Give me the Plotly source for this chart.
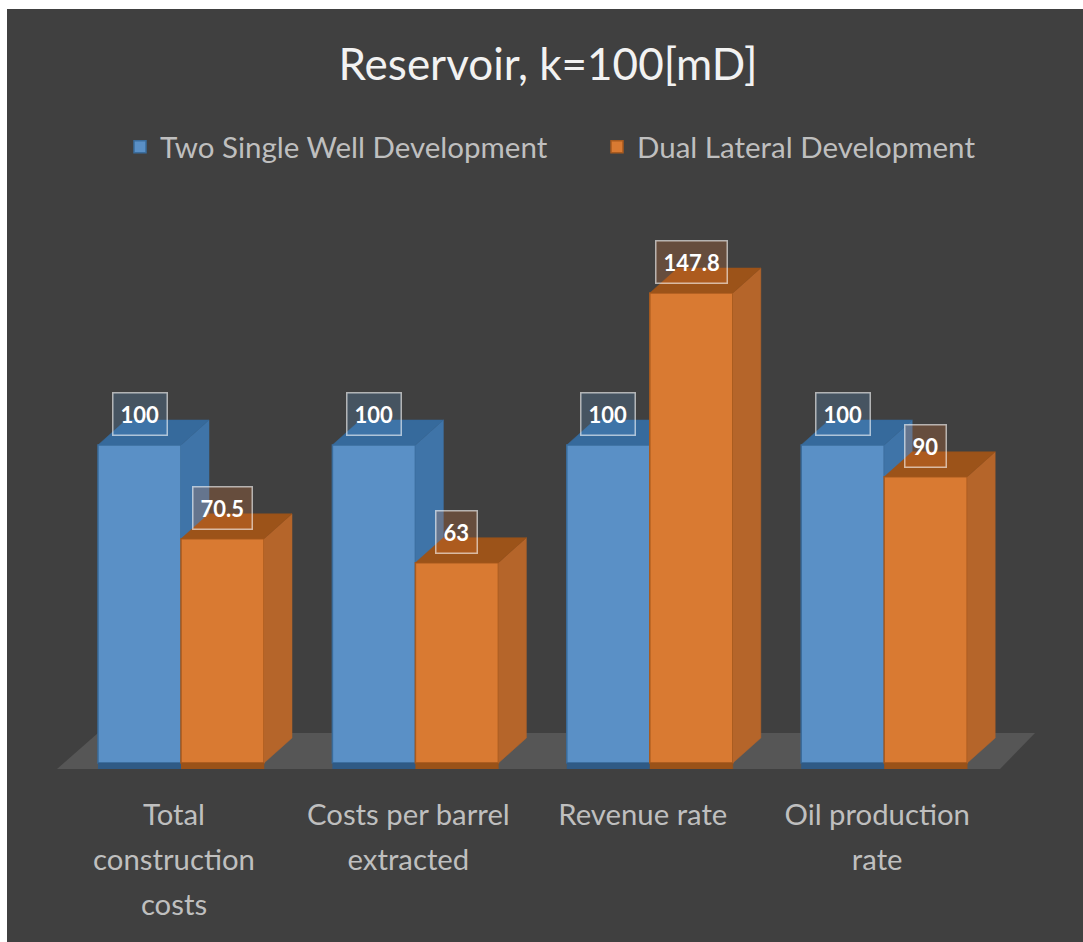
import plotly.graph_objects as go

categories = ["Total<br>construction<br>costs", "Costs per barrel<br>extracted", "Revenue rate", "Oil production<br>rate"]
positions = [0, 1, 2, 3]
series_names = ["Two Single Well Development", "Dual Lateral Development"]
two_single = [100, 100, 100, 100]
dual_lateral = [70.5, 63, 147.8, 90]
dual_labels = ["70.5", "63", "147.8", "90"]

FONT = "Lato"
BG = "#404040"
OX, OY = 7, 9     # white strip left of and above the dark panel
W = 1083 - OX
H = 942 - OY
PX_X = 234.4      # px per category
PX_Y = 3.18       # px per value unit
X0_PX, Y0_PX = 181, 763
M_TOP = 150
BOTTOM_PX = 769
BAR_W = 83 / PX_X
DX = 28 / PX_X
DY = 25 / PX_Y
x_range = [(OX - X0_PX) / PX_X, (OX + W - X0_PX) / PX_X]
y_range = [(Y0_PX - BOTTOM_PX) / PX_Y, (Y0_PX - (OY + M_TOP)) / PX_Y]


def poly(xs, ys, color, xa, ya):
    return go.Scatter(x=xs, y=ys, mode="lines", fill="toself", fillcolor=color,
                      line=dict(color=color, width=0.5), hoverinfo="skip",
                      showlegend=False, xaxis=xa, yaxis=ya)


fig = go.Figure()


def add_series(name, values, offset, front, edge, side, top, under, xa, ya):
    for p, v in zip(positions, values):
        x0 = p + offset
        x1 = x0 + BAR_W
        low = y_range[0]
        fig.add_trace(poly([x0, x1, x1, x0], [low, low, 0, 0], under, xa, ya))
        fig.add_trace(poly([x1, x1 + DX, x1 + DX, x1], [0, DY, v + DY, v], side, xa, ya))
        fig.add_trace(poly([x0, x0 + DX, x1 + DX, x1], [v, v + DY, v + DY, v], top, xa, ya))
    fig.add_trace(go.Bar(x=positions, y=values, name=name, width=BAR_W, offset=offset,
                         marker=dict(color=front, line=dict(color=edge, width=1.5)),
                         xaxis=xa, yaxis=ya))


add_series(series_names[0], two_single, -BAR_W, "#5A90C6", "#3A6C9C", "#3F74A8", "#366A9C", "#2F5A85", "x", "y")
add_series(series_names[1], dual_lateral, 0, "#D97A32", "#A85A1E", "#B5652A", "#9C5319", "#9A5218", "x2", "y2")

# floor of the chart
fx0, fx1 = (57 - X0_PX) / PX_X, (1035 - X0_PX) / PX_X
fig.add_shape(type="path", layer="below", line_width=0, fillcolor="#565656",
              path=f"M {fx0} {y_range[0]} L {fx0 + 41 / PX_X} {(Y0_PX - 733) / PX_Y} "
                   f"L {fx1} {(Y0_PX - 733) / PX_Y} L {fx1 - 35 / PX_X} {y_range[0]} Z")

for p, v in zip(positions, two_single):
    fig.add_annotation(x=p - BAR_W / 2, y=v, xref="x", yref="y", text=f"<b>{v}</b>", showarrow=False,
                       yshift=31, font=dict(family=FONT, size=22, color="#FFFFFF"),
                       bgcolor="rgba(91,155,213,0.22)", bordercolor="rgba(255,255,255,0.6)",
                       borderwidth=1.5, borderpad=7)
for p, v, t in zip(positions, dual_lateral, dual_labels):
    fig.add_annotation(x=p + BAR_W / 2, y=v, xref="x", yref="y", text=f"<b>{t}</b>", showarrow=False,
                       yshift=31, font=dict(family=FONT, size=22, color="#FFFFFF"),
                       bgcolor="rgba(237,125,49,0.22)", bordercolor="rgba(255,255,255,0.6)",
                       borderwidth=1.5, borderpad=7)

tick_text = ['<span style="font-size:29.3px">' + c + "</span>" for c in categories]
axis_common = dict(range=x_range, showgrid=False, zeroline=False, showline=False)
fig.update_layout(
    width=W, height=H, autosize=False,
    margin=dict(l=0, r=0, t=M_TOP, b=OY + H - BOTTOM_PX, pad=0, autoexpand=False),
    paper_bgcolor=BG, plot_bgcolor="rgba(0,0,0,0)",
    font=dict(family=FONT, color="#BFBFBF"),
    title=dict(text="Reservoir, k=100[mD]", x=(548 - OX) / W, xanchor="center", xref="paper",
               y=1 - (65 - OY) / H, yanchor="middle", yref="container",
               font=dict(family=FONT, size=44, color="#F2F2F2")),
    showlegend=True,
    legend=dict(orientation="h", x=(120 - OX) / W, xanchor="left", y=1 - (147 - OY) / H, yanchor="middle",
                yref="container", font=dict(family=FONT, size=29.5, color="#BFBFBF"),
                entrywidth=432, entrywidthmode="pixels", itemwidth=30,
                bgcolor="rgba(0,0,0,0)", traceorder="normal"),
    xaxis=dict(**axis_common, tickmode="array", tickvals=positions, ticktext=tick_text,
               ticks="", ticklabelshift=-7, ticklabelstandoff=20,
               tickfont=dict(family=FONT, size=34.6, color="#BFBFBF")),
    yaxis=dict(range=y_range, visible=False),
    xaxis2=dict(**axis_common, overlaying="x", matches="x", visible=False),
    yaxis2=dict(range=y_range, overlaying="y", matches="y", visible=False),
)
fig.write_html("out.html", default_width=f"{W}px", default_height=f"{H}px",
               post_script=f"document.body.style.margin='{OY}px 0 0 {OX}px';"
                           "document.documentElement.style.overflow='hidden';")
